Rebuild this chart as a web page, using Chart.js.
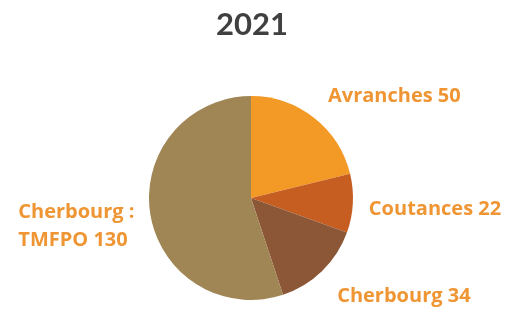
<!DOCTYPE html>
<html>
<head>
<meta charset="utf-8">
<script src="https://cdn.jsdelivr.net/npm/chart.js@4/dist/chart.umd.min.js"></script>
<style>
  html, body { margin: 0; padding: 0; background: #fff; }
  #wrap { width: 505px; height: 314px; position: relative; }
</style>
</head>
<body>
<div id="wrap"><canvas id="pie"></canvas></div>
<script>
// data
const chartTitle = '2021';
const categories = ['Avranches', 'Coutances', 'Cherbourg', 'Cherbourg :\nTMFPO'];
const values = [50, 22, 34, 130];
const sliceColors = ['#F39A26', '#C65E22', '#8C5736', '#A08655'];

// left edge / vertical centre of each label, relative to the outer mid point of its slice (px)
const labelOffsets = [[14, -21], [16, 6], [15, 25], [-132, 12]];

const labelPlugin = {
    id: 'pieLabels',
    afterDraw(chart) {
        const ctx = chart.ctx;
        ctx.save();
        // title
        ctx.fillStyle = '#404040';
        ctx.font = 'bold 31px Lato';
        ctx.textAlign = 'center';
        ctx.textBaseline = 'middle';
        ctx.fillText(chartTitle, 252, 25);

        ctx.font = 'bold 20px "Open Sans"';
        ctx.fillStyle = '#EF9533';
        ctx.textAlign = 'left';
        const meta = chart.getDatasetMeta(0);
        meta.data.forEach((arc, i) => {
            const mid = (arc.startAngle + arc.endAngle) / 2;
            const x = arc.x + Math.cos(mid) * arc.outerRadius + labelOffsets[i][0];
            const y = arc.y + Math.sin(mid) * arc.outerRadius + labelOffsets[i][1];
            const lines = categories[i].split('\n');
            lines[lines.length - 1] += ' ' + values[i];
            const lh = 28;
            lines.forEach((ln, k) => {
                ctx.fillText(ln, x, y + (k - (lines.length - 1) / 2) * lh);
            });
        });
        ctx.restore();
    }
};

new Chart(document.getElementById('pie'), {
    type: 'pie',
    data: {
        labels: categories,
        datasets: [{
            data: values,
            backgroundColor: sliceColors,
            borderWidth: 0
        }]
    },
    options: {
        responsive: true,
        maintainAspectRatio: false,
        animation: false,
        layout: { padding: { top: 96, bottom: 14, left: 100, right: 103 } },
        plugins: {
            legend: { display: false },
            tooltip: { enabled: false }
        }
    },
    plugins: [labelPlugin]
});
</script>
</body>
</html>
